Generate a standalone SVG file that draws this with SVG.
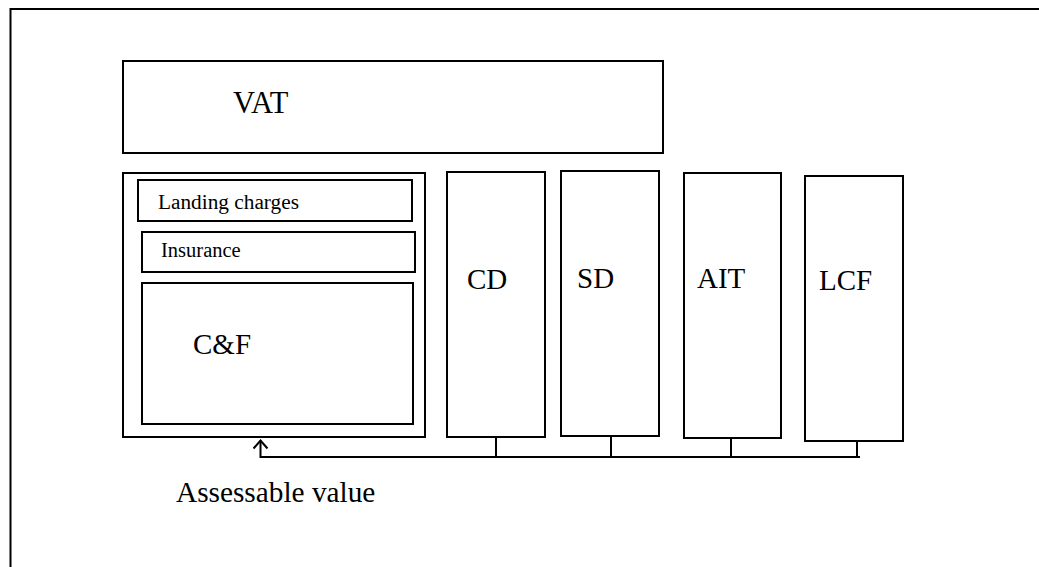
<svg xmlns="http://www.w3.org/2000/svg" width="1039" height="567" viewBox="0 0 1039 567">
<style>
.box{fill:#fff;stroke:#000;stroke-width:2}
.t{font-family:"Liberation Serif","Times New Roman",serif;fill:#000}
.big{font-size:29px}
.small{font-size:20.5px}
.conn{fill:none;stroke:#000;stroke-width:2}
</style>
<defs>
<marker id="arr" markerWidth="16" markerHeight="16" refX="14" refY="8" orient="auto" markerUnits="userSpaceOnUse" viewBox="0 0 16 16">
<path d="M6,1 L14,8 L6,15" fill="none" stroke="#000" stroke-width="2"/>
</marker>
</defs>
<rect x="0" y="0" width="1039" height="567" fill="#fff"/>
<g id="frame"><path d="M10.5,600 L10.5,9 L1045,9" fill="none" stroke="#000" stroke-width="2"/></g>
<g id="vat"><rect class="box" x="123" y="61" width="540" height="92"/><text class="t" style="font-size:30.5px" x="233" y="113">VAT</text></g>
<g id="assessable-group"><rect class="box" x="123" y="173" width="302" height="264"/></g>
<g id="landing"><rect class="box" x="138" y="180" width="274" height="41"/><text class="t" style="font-size:21.3px" x="158" y="209">Landing charges</text></g>
<g id="insurance"><rect class="box" x="142" y="232" width="273" height="40"/><text class="t small" x="161" y="257">Insurance</text></g>
<g id="cf"><rect class="box" x="142" y="283" width="271" height="141"/><text class="t big" x="193" y="354">C&amp;F</text></g>
<g id="cd"><rect class="box" x="447" y="172" width="98" height="265"/><text class="t big" x="467" y="289">CD</text></g>
<g id="sd"><rect class="box" x="561" y="171" width="98" height="265"/><text class="t big" x="577" y="288">SD</text></g>
<g id="ait"><rect class="box" x="684" y="173" width="97" height="265"/><text class="t big" x="697" y="288">AIT</text></g>
<g id="lcf"><rect class="box" x="805" y="176" width="98" height="265"/><text class="t big" x="819" y="290">LCF</text></g>
<g id="connectors">
<path class="conn" d="M860,457 L260.5,457 L260.5,440.5" marker-end="url(#arr)"/>
<path class="conn" d="M496,437 L496,457"/>
<path class="conn" d="M611,436 L611,457"/>
<path class="conn" d="M731,438 L731,457"/>
<path class="conn" d="M857,441 L857,457"/>
</g>
<g id="label"><text class="t big" style="font-size:29.3px" x="176" y="502">Assessable value</text></g>
</svg>
